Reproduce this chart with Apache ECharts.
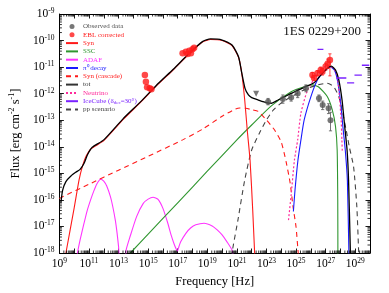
<!DOCTYPE html>
<html><head><meta charset="utf-8">
<script src="https://cdn.jsdelivr.net/npm/echarts@6/dist/echarts.min.js"></script>
<style>html,body{margin:0;padding:0;background:#fff}#c{width:389px;height:293px}</style>
</head><body><div id="c"></div>
<script>
// All values are log10: frequency [Hz] and flux [erg cm^-2 s^-1]
const xTickExps = [9, 11, 13, 15, 17, 19, 21, 23, 25, 27, 29];
const yTickExps = [-18, -17, -16, -15, -14, -13, -12, -11, -10, -9];

const synNu = [9.44, 10.0, 10.33, 10.55, 10.8, 11.13, 12.0, 13.33, 14.5, 15.55, 16.7, 17.78, 18.67, 19.22, 20.0, 20.67, 21.11, 21.33, 21.53, 21.7, 21.89, 22.07, 22.2, 22.25];
const synF  = [-18.0, -16.3, -15.25, -14.75, -14.36, -14.08, -13.77, -12.96, -12.32, -11.71, -11.1, -10.5, -10.06, -9.96, -10.0, -10.19, -10.63, -11.24, -12.24, -13.37, -14.5, -16.38, -18.0, -18.5];

const sscNu = [13.8, 15.0, 17.0, 19.0, 21.0, 22.0, 23.33, 24.67, 25.55, 26.11, 26.55, 27.11, 27.45, 27.67, 27.78, 27.82, 27.83];
const sscF  = [-18.0, -17.29, -16.11, -14.92, -13.74, -13.18, -12.46, -11.93, -11.74, -11.67, -11.76, -12.11, -12.61, -13.24, -14.12, -16.0, -18.5];

const adafNu = [10.13, 10.22, 10.4, 10.67, 10.87, 11.11, 11.33, 11.53, 11.78, 12.0, 12.2, 12.45, 12.6, 12.78, 12.9, 13.0, 13.08,
                13.43, 13.51, 13.78, 14.22, 14.67, 15.0, 15.33, 15.67, 16.0, 16.33, 16.55, 16.78, 16.93, 16.98,
                17.03, 17.2, 17.55, 17.87, 18.22, 18.78, 19.33, 19.67, 20.0, 20.33, 20.67, 20.8];
const adafF  = [-18.3, -18.0, -17.51, -16.87, -16.42, -16.0, -15.66, -15.4, -15.22, -15.29, -15.48, -15.88, -16.23, -16.76, -17.25, -17.76, -18.2,
                -18.33, -17.89, -17.38, -16.63, -16.13, -15.97, -15.9, -15.98, -16.32, -16.88, -17.32, -17.7, -17.89, -17.93,
                -17.85, -17.58, -17.26, -17.06, -16.94, -16.88, -16.98, -17.13, -17.32, -17.58, -17.89, -18.2];

const piNu = [24.82, 24.93, 25.13, 25.33, 25.55, 26.0, 26.45, 26.89, 27.33, 27.6, 27.8, 28.0, 28.17, 28.33, 28.47, 28.57, 28.6];
const piF  = [-16.44, -15.63, -14.5, -13.74, -12.99, -12.12, -11.48, -11.17, -10.99, -11.12, -11.5, -12.26, -13.26, -14.14, -15.27, -17.9, -18.5];

const cascNu = [9.0, 9.22, 11.0, 13.0, 15.0, 17.33, 18.67, 20.0, 20.89, 21.2, 21.6, 22.0, 22.45, 23.0, 23.55, 24.0, 24.33, 24.6, 24.8, 25.0, 25.13, 25.2];
const cascF  = [-15.95, -15.88, -15.41, -14.88, -14.36, -13.74, -13.34, -12.85, -12.58, -12.54, -12.55, -12.6, -12.67, -12.99, -13.37, -13.82, -14.57, -15.36, -16.27, -17.02, -17.89, -18.3];

const totNu = [9.11, 9.22, 9.44, 9.78, 10.11, 10.4, 10.67, 10.89, 11.22, 12.0, 13.33, 14.5, 15.55, 16.7, 17.78, 18.67, 19.22, 20.0, 20.67, 21.11, 21.33, 21.55, 21.78, 22.0, 22.45, 23.0, 23.33, 23.78, 24.67, 25.55, 26.22, 26.67, 27.11, 27.38, 27.67, 27.89, 28.11, 28.29, 28.45, 28.55, 28.67, 28.7];
const totF  = [-16.07, -15.63, -15.31, -15.1, -14.96, -14.85, -14.62, -14.31, -14.02, -13.74, -12.93, -12.3, -11.69, -11.08, -10.48, -10.04, -9.94, -9.98, -10.17, -10.61, -11.22, -11.8, -12.05, -12.15, -12.24, -12.34, -12.36, -12.24, -11.99, -11.76, -11.59, -11.3, -11.04, -10.96, -11.11, -11.48, -12.24, -13.24, -14.12, -15.25, -17.89, -18.5];

const nuNu = [24.49, 24.67, 24.89, 25.11, 25.33, 25.78, 26.33, 26.78, 27.13, 27.53, 27.73, 27.82, 27.95, 28.05, 28.1, 28.13];
const nuF  = [-16.76, -15.81, -14.5, -13.74, -12.73, -11.86, -11.36, -11.04, -10.95, -11.03, -11.26, -11.48, -12.24, -12.99, -13.74, -14.2];

const ppNu = [20.6, 20.67, 21.07, 21.53, 22.0, 22.53, 23.0, 23.47, 24.0, 24.67, 25.53, 26.45, 27.11, 27.55, 27.89, 28.11, 28.4, 28.6, 28.89, 29.11, 29.22, 29.27];
const ppF  = [-18.5, -18.0, -16.76, -15.25, -14.12, -13.48, -12.99, -12.61, -12.35, -12.12, -11.86, -11.67, -11.61, -11.74, -12.11, -12.61, -13.4, -14.0, -14.75, -16.26, -17.76, -18.5];

const iceNuStart = [26.45, 27.73, 28.45, 28.95, 29.45];
const iceNuEnd   = [26.85, 28.4, 28.93, 29.45, 29.95];
const iceF       = [-10.33, -11.41, -11.59, -11.30, -10.93];

// Observed data (grey)
const obsNu = [23.11, 24.11, 24.67, 25.11, 25.67, 26.55, 26.8, 27.2, 27.33];
const obsF  = [-12.30, -12.20, -12.14, -11.99, -11.80, -12.17, -12.43, -12.55, -13.0];
const obsLo = [-12.42, -12.36, -12.28, -12.15, -11.93, -12.3, -12.6, -12.75, -13.4];
const obsHi = [-12.18, -12.05, -12.0, -11.85, -11.67, -12.05, -12.28, -12.38, -12.7];
const ulNu = [22.3];
const ulF  = [-12.0];

// EBL corrected (red)
const eblNu = [14.78, 14.85, 14.93, 15.11, 15.22, 17.33, 17.55, 17.67, 17.78, 17.89, 18.0, 18.11, 26.11, 26.22, 26.45, 26.67, 26.78, 27.0, 27.15, 27.29];
const eblF  = [-11.30, -11.55, -11.76, -11.80, -11.83, -10.48, -10.42, -10.51, -10.38, -10.48, -10.33, -10.27, -11.3, -11.41, -11.23, -11.11, -11.17, -10.98, -10.86, -10.73];
const eblLo = [null, null, null, null, null, null, null, null, null, null, null, null, -11.4, -11.5, -11.33, -11.22, -11.3, -11.12, -11.05, -11.33];
const eblHi = [null, null, null, null, null, null, null, null, null, null, null, null, -11.2, -11.32, -11.13, -11.0, -11.05, -10.85, -10.7, -10.5];

const zip = (a, b) => a.map((v, i) => [v, b[i]]);
const serif = 'Liberation Serif';
const C = {red: '#ff1a1a', green: '#2f962f', mag: '#ff33ff', blue: '#1a1aff', pink: '#ff2a9a', purple: '#7a22ff', pp: '#444', tot: '#000', obs: '#555'};

function errSeries(nu, lo, hi, color) {
  const data = [];
  nu.forEach((v, i) => { if (lo[i] != null) data.push([v, lo[i], hi[i]]); });
  return {
    type: 'custom', data: data, z: 4, silent: true,
    renderItem: function (params, api) {
      const p1 = api.coord([api.value(0), api.value(1)]);
      const p2 = api.coord([api.value(0), api.value(2)]);
      const c = 1.6, st = {stroke: color, lineWidth: 0.8};
      return {type: 'group', children: [
        {type: 'line', shape: {x1: p1[0], y1: p1[1], x2: p2[0], y2: p2[1]}, style: st},
        {type: 'line', shape: {x1: p1[0] - c, y1: p1[1], x2: p1[0] + c, y2: p1[1]}, style: st},
        {type: 'line', shape: {x1: p2[0] - c, y1: p2[1], x2: p2[0] + c, y2: p2[1]}, style: st}
      ]};
    }
  };
}

// minor (log) ticks
const minorX = [], minorY = [];
for (let d = 9; d < 30; d++) for (let k = 2; k <= 9; k++) minorX.push([d + Math.log10(k), -18]);
for (let d = -18; d < -9; d++) for (let k = 2; k <= 9; k++) minorY.push([9, d + Math.log10(k)]);
function minorSeries(data, isX) {
  return {
    type: 'custom', data: data, silent: true, z: 10,
    renderItem: function (params, api) {
      const cs = params.coordSys;
      const p = api.coord([api.value(0), api.value(1)]);
      const L = 2.5, st = {stroke: '#000', lineWidth: 0.8};
      if (isX) {
        return {type: 'group', children: [
          {type: 'line', shape: {x1: p[0], y1: cs.y + cs.height, x2: p[0], y2: cs.y + cs.height - L}, style: st},
          {type: 'line', shape: {x1: p[0], y1: cs.y, x2: p[0], y2: cs.y + L}, style: st}
        ]};
      }
      return {type: 'group', children: [
        {type: 'line', shape: {x1: cs.x, y1: p[1], x2: cs.x + L, y2: p[1]}, style: st},
        {type: 'line', shape: {x1: cs.x + cs.width, y1: p[1], x2: cs.x + cs.width - L, y2: p[1]}, style: st}
      ]};
    }
  };
}

function line(name, nu, f, color, w, type, extra) {
  return Object.assign({
    name: name, type: 'line', data: zip(nu, f), symbol: 'none', smooth: 0.2,
    lineStyle: {color: color, width: w, type: type}, itemStyle: {color: color}, z: 3
  }, extra || {});
}

const iceData = [];
iceNuStart.forEach((s, i) => { iceData.push([s, iceF[i]], [iceNuEnd[i], iceF[i]], [iceNuEnd[i], '-']); });

const rich = {
  b: {fontFamily: serif, fontSize: 11.5, color: '#000', lineHeight: 14},
  s: {fontFamily: serif, fontSize: 7.5, color: '#000', lineHeight: 7, verticalAlign: 'top'}
};
const fmtX = v => (xTickExps.indexOf(v) >= 0 ? '{b|10}{s|' + v + '}' : '');
const fmtY = v => (yTickExps.indexOf(v) >= 0 ? '{b|10}{s|' + v + '}' : '');

const axisCommon = {
  type: 'value', interval: 1,
  axisLine: {show: true, onZero: false, lineStyle: {color: '#000', width: 1}},
  axisTick: {show: true, inside: true, length: 4.5, lineStyle: {color: '#000', width: 0.9}},
  splitLine: {show: false}
};
const hideSym = {opacity: 0};

const chart = echarts.init(document.getElementById('c'), null, {renderer: 'canvas'});
chart.setOption({
  animation: false,
  backgroundColor: '#fff',
  title: {text: '1ES 0229+200', right: 23, top: 20, textStyle: {fontFamily: serif, fontSize: 13, fontWeight: 'normal', color: '#111'}},
  grid: {left: 55, right: 19, top: 14, bottom: 40},
  legend: {
    orient: 'vertical', left: 60, top: 18, itemWidth: 12, itemHeight: 5, itemGap: 1.3,
    textStyle: {fontFamily: serif, fontSize: 7, lineHeight: 7},
    formatter: function (n) { return n.indexOf('IceCube') === 0 ? '{a|IceCube (δ}{sub|dec}{a|=30°)}' : n; },
    data: [
      {name: 'Observed data', textStyle: {color: C.obs}},
      {name: 'EBL corrected', textStyle: {color: C.red}},
      {name: 'Syn', textStyle: {color: C.red}, itemStyle: hideSym},
      {name: 'SSC', textStyle: {color: C.green}, itemStyle: hideSym},
      {name: 'ADAF', textStyle: {color: C.mag}, itemStyle: hideSym},
      {name: 'π⁰ decay', textStyle: {color: C.blue}, itemStyle: hideSym},
      {name: 'Syn (cascade)', textStyle: {color: C.red}, itemStyle: hideSym},
      {name: 'tot', textStyle: {color: '#333'}, itemStyle: hideSym, lineStyle: {color: '#333', width: 2, opacity: 1}},
      {name: 'Neutrino', textStyle: {color: C.pink}, itemStyle: hideSym},
      {name: 'IceCube', itemStyle: hideSym, textStyle: {color: C.purple, rich: {
        a: {fontFamily: serif, fontSize: 7, color: C.purple},
        sub: {fontFamily: serif, fontSize: 5, color: C.purple, verticalAlign: 'bottom', lineHeight: 5}}}},
      {name: 'pp scenario', textStyle: {color: '#444'}, itemStyle: hideSym}
    ]
  },
  xAxis: [
    Object.assign({}, axisCommon, {min: 9, max: 30, position: 'bottom',
      axisLabel: {formatter: fmtX, rich: rich, margin: 4},
      name: 'Frequency [Hz]', nameLocation: 'middle', nameGap: 13,
      nameTextStyle: {fontFamily: serif, fontSize: 12.5, color: '#000'}}),
    Object.assign({}, axisCommon, {min: 9, max: 30, position: 'top', axisLabel: {show: false}})
  ],
  yAxis: [
    Object.assign({}, axisCommon, {min: -18, max: -9, position: 'left',
      axisLabel: {formatter: fmtY, rich: rich, margin: 5},
      name: '{b|Flux [erg cm}{s|-2}{b| s}{s|-1}{b|]}', nameLocation: 'middle', nameGap: 33, nameRotate: 90,
      nameTextStyle: {rich: {
        b: {fontFamily: serif, fontSize: 12.5, color: '#000', lineHeight: 15},
        s: {fontFamily: serif, fontSize: 8, color: '#000', lineHeight: 8, verticalAlign: 'top'}}}}),
    Object.assign({}, axisCommon, {min: -18, max: -9, position: 'right', axisLabel: {show: false}})
  ],
  series: [
    line('ADAF', adafNu, adafF, C.mag, 1.1, 'solid'),
    line('SSC', sscNu, sscF, C.green, 1.1, 'solid'),
    line('Syn (cascade)', cascNu, cascF, C.red, 1.1, [5, 4]),
    line('pp scenario', ppNu, ppF, C.pp, 1.1, [5, 4]),
    line('Syn', synNu, synF, C.red, 1.1, 'solid'),
    line('π⁰ decay', piNu, piF, C.blue, 1.1, 'solid'),
    line('Neutrino', nuNu, nuF, C.pink, 1.2, [2, 2]),
    line('tot', totNu, totF, C.tot, 1.3, 'solid', {z: 5}),
    {name: 'IceCube', type: 'line', data: iceData, symbol: 'none', connectNulls: false, z: 5,
      lineStyle: {color: C.purple, width: 1.3}, itemStyle: {color: C.purple}},
    errSeries(obsNu, obsLo, obsHi, C.obs),
    errSeries(eblNu, eblLo, eblHi, C.red),
    {name: 'Observed data', type: 'scatter', data: zip(obsNu, obsF), symbol: 'circle', symbolSize: 6, z: 6,
      itemStyle: {color: C.obs}},
    {name: 'Observed data', type: 'scatter', data: zip(ulNu, ulF), symbol: 'triangle', symbolRotate: 180, symbolSize: 6, z: 6,
      itemStyle: {color: C.obs}},
    {name: 'EBL corrected', type: 'scatter', data: zip(eblNu, eblF), symbol: 'circle', symbolSize: 6.5, z: 7,
      itemStyle: {color: C.red}},
    minorSeries(minorX, true),
    minorSeries(minorY, false)
  ]
});
</script></body></html>
